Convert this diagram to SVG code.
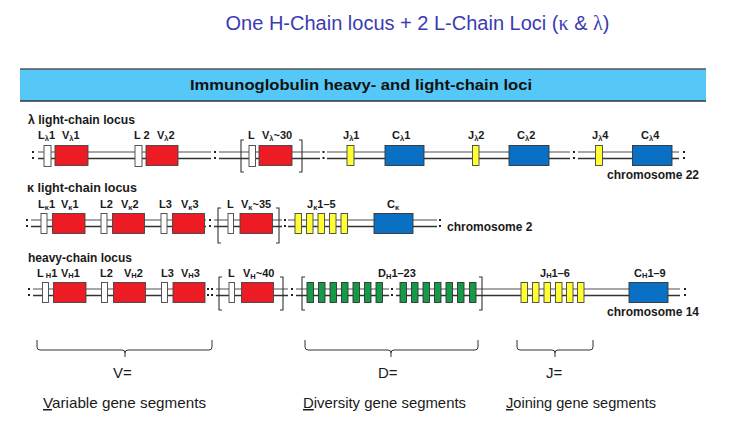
<svg xmlns="http://www.w3.org/2000/svg" width="729" height="441" viewBox="0 0 729 441">
<style>
.bg{fill:#ffffff}
.title{font-family:"Liberation Sans",Arial,sans-serif;font-size:20px;fill:#3b3bb3}
.hdr{font-family:"Liberation Sans",Arial,sans-serif;font-size:15px;font-weight:bold;fill:#111}
.rowt{font-family:"Liberation Sans",Arial,sans-serif;font-size:12.5px;font-weight:bold;fill:#1a1a1a}
.lab{font-family:"Liberation Sans",Arial,sans-serif;font-size:11px;font-weight:bold;fill:#1a1a1a}
.sub{font-size:7.5px}
.chr{font-family:"Liberation Sans",Arial,sans-serif;font-size:12px;font-weight:bold;fill:#1a1a1a}
.bot{font-family:"Liberation Sans",Arial,sans-serif;font-size:15px;fill:#1a1a1a}
.l1{stroke:#8a8a8a;stroke-width:1.4;fill:none}
.l2{stroke:#333;stroke-width:1.4;fill:none}
.w{fill:#ffffff;stroke:#444;stroke-width:0.9}
.r{fill:#ed1c24;stroke:#444;stroke-width:0.9}
.b{fill:#0a70c4;stroke:#333;stroke-width:0.9}
.y{fill:#ffff33;stroke:#444;stroke-width:0.9}
.g{fill:#159a48;stroke:#333;stroke-width:0.9}
.br{stroke:#333;stroke-width:1.1;fill:none}
.brace{stroke:#333;stroke-width:1;fill:none}
.dot{fill:#222}
</style>
<defs>
<g id="brk"><rect class="dot" x="-1" y="-4" width="2" height="2"/><rect class="dot" x="-1" y="2" width="2" height="2"/></g>
</defs>
<rect class="bg" x="0" y="0" width="729" height="441"/>
<text class="title" x="417.5" y="30" text-anchor="middle">One H-Chain locus + 2 L-Chain Loci (<tspan font-family="Liberation Serif,serif">κ</tspan> &amp; <tspan font-family="Liberation Serif,serif">λ</tspan>)</text>

<g id="header">
<rect x="20" y="69" width="686" height="32" fill="#56c8f7"/>
<line x1="20" y1="69" x2="706" y2="69" stroke="#555" stroke-width="1.5"/>
<line x1="20" y1="101" x2="706" y2="101" stroke="#334" stroke-width="1.5"/>
<text class="hdr" x="190" y="90" textLength="342" lengthAdjust="spacingAndGlyphs">Immunoglobulin heavy- and light-chain loci</text>
</g>

<g id="connectors">
<path class="l1" d="M38,152H211M219,152H320M327,152H570M578,152H679"/>
<path class="l2" d="M38,158.5H211M219,158.5H320M327,158.5H570M578,158.5H679"/>
<path class="l1" d="M31,220H206M214,220H282M288,220H437"/>
<path class="l2" d="M31,226.5H206M214,226.5H282M288,226.5H437"/>
<path class="l1" d="M33,289H205M216,289H288M296,289H389M396,289H680"/>
<path class="l2" d="M33,295.5H205M216,295.5H288M296,295.5H389M396,295.5H680"/>
</g>

<g id="lambda-locus">
<text class="rowt" x="28" y="124" textLength="107" lengthAdjust="spacingAndGlyphs">λ light-chain locus</text>
<use href="#brk" x="33" y="155"/><use href="#brk" x="215" y="155"/><use href="#brk" x="323.5" y="155"/><use href="#brk" x="574" y="155"/><use href="#brk" x="684" y="155"/>
<rect class="w" x="44" y="145.5" width="7" height="21"/>
<rect class="r" x="55" y="145.5" width="33" height="20"/>
<rect class="w" x="135" y="145.5" width="7" height="21"/>
<rect class="r" x="146" y="145.5" width="32" height="20"/>
<path class="br" d="M244,140H241V172H244"/>
<rect class="w" x="249" y="145.5" width="6.5" height="21"/>
<rect class="r" x="259" y="145.5" width="33" height="20"/>
<path class="br" d="M299,140H302V172H299"/>
<rect class="y" x="347" y="145.5" width="7" height="20"/>
<rect class="b" x="385" y="145.5" width="39" height="20"/>
<rect class="y" x="472.5" y="145.5" width="6.5" height="20"/>
<rect class="b" x="509" y="145.5" width="40" height="20"/>
<rect class="y" x="595.5" y="145.5" width="7" height="20"/>
<rect class="b" x="632.5" y="145.5" width="39.5" height="20"/>
<text class="lab" x="38" y="139">L<tspan class="sub" dy="2">λ</tspan><tspan dy="-2">1</tspan></text>
<text class="lab" x="62" y="139">V<tspan class="sub" dy="2">λ</tspan><tspan dy="-2">1</tspan></text>
<text class="lab" x="134" y="139">L 2</text>
<text class="lab" x="157" y="139">V<tspan class="sub" dy="2">λ</tspan><tspan dy="-2">2</tspan></text>
<text class="lab" x="248" y="139">L</text>
<text class="lab" x="262" y="139">V<tspan class="sub" dy="2">λ</tspan><tspan dy="-2">~30</tspan></text>
<text class="lab" x="343" y="139">J<tspan class="sub" dy="2">λ</tspan><tspan dy="-2">1</tspan></text>
<text class="lab" x="392" y="139">C<tspan class="sub" dy="2">λ</tspan><tspan dy="-2">1</tspan></text>
<text class="lab" x="468" y="139">J<tspan class="sub" dy="2">λ</tspan><tspan dy="-2">2</tspan></text>
<text class="lab" x="517" y="139">C<tspan class="sub" dy="2">λ</tspan><tspan dy="-2">2</tspan></text>
<text class="lab" x="592" y="139">J<tspan class="sub" dy="2">λ</tspan><tspan dy="-2">4</tspan></text>
<text class="lab" x="641" y="139">C<tspan class="sub" dy="2">λ</tspan><tspan dy="-2">4</tspan></text>
<text class="chr" x="607" y="179">chromosome 22</text>
</g>

<g id="kappa-locus">
<text class="rowt" x="27" y="192" textLength="110" lengthAdjust="spacingAndGlyphs">κ light-chain locus</text>
<use href="#brk" x="27" y="223"/><use href="#brk" x="210" y="223"/><use href="#brk" x="285" y="223"/><use href="#brk" x="440" y="223"/>
<rect class="w" x="41" y="213.5" width="6" height="20"/>
<rect class="r" x="52.5" y="213.5" width="32.5" height="20"/>
<rect class="w" x="101" y="213.5" width="6" height="20"/>
<rect class="r" x="112.5" y="213.5" width="32" height="20"/>
<rect class="w" x="161" y="213.5" width="6" height="20"/>
<rect class="r" x="172.5" y="213.5" width="32" height="20"/>
<path class="br" d="M221,208H218V243H221"/>
<rect class="w" x="228" y="213.5" width="5.5" height="20"/>
<rect class="r" x="240" y="213.5" width="32.5" height="20"/>
<path class="br" d="M276,208H279V243H276"/>
<rect class="y" x="295" y="213.5" width="6.5" height="20"/>
<rect class="y" x="306.5" y="213.5" width="6.5" height="20"/>
<rect class="y" x="318" y="213.5" width="6.5" height="20"/>
<rect class="y" x="329.5" y="213.5" width="6.5" height="20"/>
<rect class="y" x="341" y="213.5" width="6.5" height="20"/>
<rect class="b" x="374" y="213.5" width="39" height="20"/>
<text class="lab" x="38" y="208">L<tspan class="sub" dy="1.5">κ</tspan><tspan dy="-1.5">1</tspan></text>
<text class="lab" x="61" y="208">V<tspan class="sub" dy="1.5">κ</tspan><tspan dy="-1.5">1</tspan></text>
<text class="lab" x="100" y="208">L2</text>
<text class="lab" x="121" y="208">V<tspan class="sub" dy="1.5">κ</tspan><tspan dy="-1.5">2</tspan></text>
<text class="lab" x="159" y="208">L3</text>
<text class="lab" x="181" y="208">V<tspan class="sub" dy="1.5">κ</tspan><tspan dy="-1.5">3</tspan></text>
<text class="lab" x="227" y="208">L</text>
<text class="lab" x="241" y="208">V<tspan class="sub" dy="1.5">κ</tspan><tspan dy="-1.5">~35</tspan></text>
<text class="lab" x="307" y="208">J<tspan class="sub" dy="1.5">κ</tspan><tspan dy="-1.5">1–5</tspan></text>
<text class="lab" x="387" y="208">C<tspan class="sub" dy="1.5">κ</tspan></text>
<text class="chr" x="447" y="231">chromosome 2</text>
</g>

<g id="heavy-locus">
<text class="rowt" x="28" y="262" textLength="104" lengthAdjust="spacingAndGlyphs">heavy-chain locus</text>
<use href="#brk" x="29" y="292"/><use href="#brk" x="208" y="292"/><use href="#brk" x="212" y="292"/><use href="#brk" x="292" y="292"/><use href="#brk" x="392" y="292"/><use href="#brk" x="685" y="292"/>
<rect class="w" x="42.5" y="282.5" width="6" height="20"/>
<rect class="r" x="53.5" y="282.5" width="32.5" height="20"/>
<rect class="w" x="101.5" y="282.5" width="6" height="20"/>
<rect class="r" x="113.5" y="282.5" width="32" height="20"/>
<rect class="w" x="161.5" y="282.5" width="6" height="20"/>
<rect class="r" x="173" y="282.5" width="32" height="20"/>
<path class="br" d="M222,277H219V310H222"/>
<rect class="w" x="229" y="282.5" width="5.5" height="20"/>
<rect class="r" x="241.5" y="282.5" width="32" height="20"/>
<path class="br" d="M280,277H283V310H280"/>
<path class="br" d="M305,277H302V310H305"/>
<rect class="g" x="307" y="282.5" width="6.5" height="20"/>
<rect class="g" x="318.5" y="282.5" width="6.5" height="20"/>
<rect class="g" x="330" y="282.5" width="6.5" height="20"/>
<rect class="g" x="341.5" y="282.5" width="6.5" height="20"/>
<rect class="g" x="353" y="282.5" width="6.5" height="20"/>
<rect class="g" x="364.5" y="282.5" width="6.5" height="20"/>
<rect class="g" x="376" y="282.5" width="6.5" height="20"/>
<rect class="g" x="400" y="282.5" width="6.5" height="20"/>
<rect class="g" x="411.5" y="282.5" width="6.5" height="20"/>
<rect class="g" x="423" y="282.5" width="6.5" height="20"/>
<rect class="g" x="434.5" y="282.5" width="6.5" height="20"/>
<rect class="g" x="446" y="282.5" width="6.5" height="20"/>
<rect class="g" x="457.5" y="282.5" width="6.5" height="20"/>
<rect class="g" x="469.5" y="282.5" width="6.5" height="20"/>
<path class="br" d="M479,277H482V310H479"/>
<rect class="y" x="521" y="282.5" width="6.5" height="20"/>
<rect class="y" x="532.5" y="282.5" width="6.5" height="20"/>
<rect class="y" x="544" y="282.5" width="6.5" height="20"/>
<rect class="y" x="555.5" y="282.5" width="6.5" height="20"/>
<rect class="y" x="566.5" y="282.5" width="6.5" height="20"/>
<rect class="y" x="577.5" y="282.5" width="6.5" height="20"/>
<rect class="b" x="629" y="282.5" width="39" height="20"/>
<text class="lab" x="37" y="277">L<tspan class="sub" dx="2" dy="1">H</tspan><tspan dy="-1">1</tspan></text>
<text class="lab" x="61" y="277">V<tspan class="sub" dy="1">H</tspan><tspan dy="-1">1</tspan></text>
<text class="lab" x="100" y="277">L2</text>
<text class="lab" x="124" y="277">V<tspan class="sub" dy="1">H</tspan><tspan dy="-1">2</tspan></text>
<text class="lab" x="161" y="277">L3</text>
<text class="lab" x="181" y="277">V<tspan class="sub" dy="1">H</tspan><tspan dy="-1">3</tspan></text>
<text class="lab" x="228" y="277">L</text>
<text class="lab" x="243" y="277">V<tspan class="sub" dy="2">H</tspan><tspan dy="-2">~40</tspan></text>
<text class="lab" x="378" y="277">D<tspan class="sub" dy="1.5">H</tspan><tspan dy="-1.5">1–23</tspan></text>
<text class="lab" x="540" y="277">J<tspan class="sub" dy="1">H</tspan><tspan dy="-1">1–6</tspan></text>
<text class="lab" x="634" y="277">C<tspan class="sub" dy="1">H</tspan><tspan dy="-1">1–9</tspan></text>
<text class="chr" x="607" y="316">chromosome 14</text>
</g>

<g id="v-group">
<path class="brace" d="M37,340V347Q37,350 40,350H122Q125,350 125,353V357M125,353Q125,350 128,350H209Q212,350 212,347V340"/>
<text class="bot" x="113" y="378">V=</text>
<text class="bot" x="43" y="408" textLength="163" lengthAdjust="spacingAndGlyphs"><tspan text-decoration="underline">V</tspan>ariable gene segments</text>
</g>
<g id="d-group">
<path class="brace" d="M305,340V347Q305,350 308,350H388Q391,350 391,353V357M391,353Q391,350 394,350H475Q478,350 478,347V340"/>
<text class="bot" x="378" y="378">D=</text>
<text class="bot" x="303" y="408" textLength="163" lengthAdjust="spacingAndGlyphs"><tspan text-decoration="underline">D</tspan>iversity gene segments</text>
</g>
<g id="j-group">
<path class="brace" d="M517,340V347Q517,350 520,350H552Q555,350 555,353V357M555,353Q555,350 558,350H590Q593,350 593,347V340"/>
<text class="bot" x="546" y="378">J=</text>
<text class="bot" x="506" y="408" textLength="150" lengthAdjust="spacingAndGlyphs"><tspan text-decoration="underline">J</tspan>oining gene segments</text>
</g>
</svg>
